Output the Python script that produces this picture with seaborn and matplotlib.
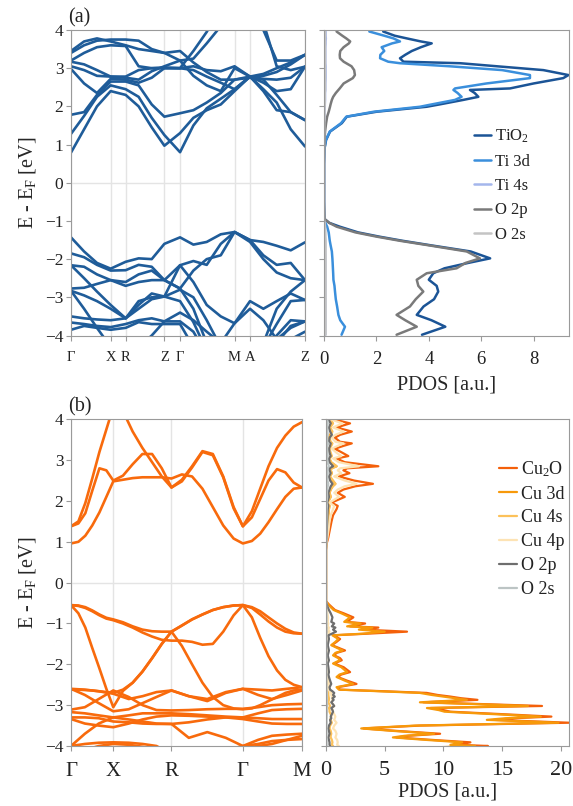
import matplotlib
matplotlib.use('Agg')
import matplotlib.pyplot as plt
import seaborn as sns

# ---------------- data: panel (a) TiO2 ----------------
k_a = [0, 0.056, 0.111, 0.1695, 0.2336, 0.289, 0.345, 0.399, 0.466,
       0.523, 0.580, 0.640, 0.699, 0.765, 0.822, 0.879, 0.939, 1.0]
kticks_a = [0, 0.1695, 0.2336, 0.399, 0.466, 0.699, 0.765, 1.0]
klabels_a = ['Γ', 'X', 'R', 'Z', 'Γ', 'M', 'A', 'Z']

bands_a = [
    [0.79, 1.40, 2.00, 2.40, 2.30, 2.00, 1.45, 0.97, 1.30, 1.70, 1.90, 2.05, 2.40, 2.78, 2.45, 2.10, 1.40, 0.95],
    [1.28, 1.75, 2.25, 2.55, 2.45, 2.25, 1.70, 1.25, 0.80, 1.50, 1.95, 2.20, 2.45, 2.78, 2.40, 1.90, 1.85, 1.64],
    [1.78, 1.85, 2.30, 2.65, 2.65, 2.55, 2.05, 1.73, 1.82, 1.90, 2.10, 2.35, 2.70, 2.75, 2.70, 2.30, 1.85, 1.64],
    [2.98, 2.60, 2.35, 2.72, 2.70, 2.62, 2.75, 3.00, 3.00, 2.95, 2.78, 2.62, 2.45, 2.78, 2.72, 2.70, 2.75, 3.04],
    [3.05, 2.95, 2.80, 2.78, 2.75, 2.70, 2.92, 3.05, 3.20, 2.80, 2.55, 2.40, 3.00, 2.78, 2.62, 2.40, 2.45, 3.04],
    [3.17, 3.10, 2.95, 2.78, 2.78, 2.95, 3.00, 3.02, 3.00, 3.05, 2.95, 2.92, 3.05, 2.78, 2.80, 2.90, 3.10, 3.35],
    [3.40, 3.60, 3.72, 3.75, 3.75, 3.72, 3.50, 3.40, 3.45, 3.15, 2.90, 2.70, 2.70, 2.78, 2.85, 3.00, 3.15, 3.35],
    [3.45, 3.70, 3.78, 3.70, 3.60, 3.50, 3.45, 3.40, 3.20, 3.25, 3.65, 4.10, 5.00, 5.00, 4.20, 3.05, 2.95, 3.04],
    [3.20, 3.40, 3.55, 3.60, 3.58, 3.05, 3.00, 3.00, 3.00, 3.45, 3.95, 4.60, 5.20, 5.20, 4.00, 3.20, 3.20, 3.35],
    [-1.43, -1.80, -2.10, -2.25, -2.07, -1.98, -2.00, -1.60, -1.43, -1.62, -1.55, -1.35, -1.29, -1.50, -1.55, -1.65, -1.77, -1.56],
    [-1.85, -1.95, -2.15, -2.30, -2.29, -2.15, -2.20, -2.55, -2.16, -2.05, -2.15, -1.60, -1.29, -1.50, -1.90, -2.15, -2.10, -2.55],
    [-2.16, -2.20, -2.40, -2.55, -2.60, -2.40, -2.30, -2.55, -2.77, -2.30, -2.00, -1.90, -1.29, -1.55, -2.00, -2.35, -2.50, -2.55],
    [-2.16, -2.50, -2.85, -3.20, -3.55, -3.20, -2.90, -2.98, -2.16, -2.60, -3.20, -3.50, -3.68, -3.10, -3.30, -3.10, -2.90, -3.07],
    [-2.77, -2.75, -2.65, -2.55, -2.70, -2.60, -2.55, -2.55, -2.77, -3.30, -4.20, -4.60, -4.60, -4.50, -4.20, -3.30, -2.85, -2.55],
    [-2.83, -2.95, -3.10, -3.30, -3.55, -3.10, -3.00, -2.98, -2.80, -3.00, -3.60, -4.30, -4.60, -4.60, -4.30, -3.70, -3.10, -3.07],
    [-3.50, -3.55, -3.58, -3.60, -3.55, -3.30, -3.05, -2.98, -3.10, -3.65, -4.40, -4.80, -4.80, -4.80, -4.50, -4.00, -3.60, -3.63],
    [-3.66, -3.70, -3.75, -3.78, -3.70, -3.60, -3.55, -3.63, -3.63, -3.90, -4.50, -4.80, -4.90, -4.90, -4.60, -4.20, -3.75, -3.63],
    [-3.85, -3.75, -3.80, -3.85, -3.80, -3.65, -3.70, -3.70, -3.70, -4.30, -4.80, -5.00, -5.00, -5.00, -4.80, -4.40, -4.10, -3.90],
    [-2.83, -3.30, -3.80, -4.30, -4.40, -4.30, -4.00, -3.63, -3.40, -3.60, -3.90, -4.20, -3.68, -3.30, -3.60, -4.10, -3.80, -3.63],
]

e_a = [3.96, 3.85, 3.78, 3.70, 3.65, 3.55, 3.45, 3.35, 3.26, 3.17, 3.13, 3.05, 2.95,
       2.82, 2.74, 2.60, 2.47, 2.43, 2.35, 2.25, 2.17, 2.05, 1.99, 1.86, 1.73, 1.56,
       1.34, 1.12, 0.90, 0.50, 0.00, -0.50, -0.95, -1.05, -1.15, -1.30, -1.41, -1.52,
       -1.63, -1.80, -1.98, -2.10, -2.24, -2.37, -2.54, -2.70, -2.85, -3.05, -3.24,
       -3.46, -3.60, -3.77, -3.98]
tio2 = [2.26, 2.70, 3.16, 3.70, 4.11, 3.70, 3.35, 3.10, 2.90, 3.03, 5.20, 6.60, 8.37,
        9.33, 9.13, 8.00, 7.10, 5.57, 5.75, 5.89, 5.32, 4.40, 3.92, 2.01, 0.87, 0.68,
        0.23, 0.08, 0.02, 0.00, 0.00, 0.00, 0.02, 0.20, 0.60, 1.30, 2.10, 3.00,
        4.00, 5.60, 6.34, 5.50, 4.60, 4.17, 4.00, 4.30, 4.36, 4.20, 3.80,
        3.54, 4.10, 4.63, 3.74]
ti3d = [1.73, 2.30, 2.65, 2.90, 2.60, 2.20, 2.30, 2.15, 2.14, 2.45, 2.90, 4.80, 6.80,
        7.86, 7.86, 6.20, 5.00, 4.94, 5.10, 5.25, 5.00, 4.10, 3.66, 1.90, 0.85, 0.65,
        0.22, 0.07, 0.02, 0.00, 0.00, 0.00, 0.00, 0.05, 0.12, 0.18, 0.20, 0.22,
        0.25, 0.30, 0.32, 0.33, 0.34, 0.35, 0.36, 0.40, 0.42, 0.45, 0.50,
        0.55, 0.62, 0.80, 0.67]
ti4s = [0.06, 0.06, 0.07, 0.06, 0.06, 0.05, 0.05, 0.05, 0.05, 0.05, 0.05, 0.06, 0.06,
        0.06, 0.06, 0.05, 0.05, 0.05, 0.04, 0.04, 0.04, 0.03, 0.03, 0.02, 0.02, 0.01,
        0.01, 0.00, 0.00, 0.00, 0.00, 0.00, 0.00, 0.01, 0.02, 0.03, 0.03, 0.04,
        0.04, 0.04, 0.05, 0.05, 0.05, 0.05, 0.05, 0.05, 0.05, 0.05, 0.05,
        0.05, 0.05, 0.05, 0.05]
o2p_a = [0.48, 0.70, 0.85, 1.00, 0.95, 0.75, 0.62, 0.60, 0.61, 0.75, 0.85, 1.05, 1.15,
         1.18, 1.10, 0.75, 0.60, 0.55, 0.45, 0.35, 0.30, 0.25, 0.23, 0.18, 0.12, 0.08,
         0.04, 0.02, 0.01, 0.00, 0.00, 0.00, 0.02, 0.20, 0.48, 1.20, 2.00, 2.90,
         3.92, 5.45, 5.95, 5.40, 5.06, 3.92, 3.54, 3.60, 3.79, 3.50, 3.28,
         2.77, 3.10, 3.54, 2.77]
o2s_a = [0.04, 0.04, 0.04, 0.04, 0.04, 0.04, 0.04, 0.04, 0.04, 0.04, 0.04, 0.04, 0.04,
         0.04, 0.04, 0.04, 0.04, 0.04, 0.03, 0.03, 0.03, 0.03, 0.02, 0.02, 0.02, 0.01,
         0.01, 0.00, 0.00, 0.00, 0.00, 0.00, 0.00, 0.02, 0.04, 0.05, 0.05, 0.06,
         0.06, 0.06, 0.06, 0.06, 0.06, 0.06, 0.06, 0.06, 0.06, 0.06, 0.06,
         0.06, 0.06, 0.06, 0.06]

# ---------------- data: panel (b) Cu2O ----------------
kticks_b = [0, 0.183, 0.435, 0.744, 1.0]
klabels_b = ['Γ', 'X', 'R', 'Γ', 'M']

# finer k grid for the smooth outer bands
k_b_fine = [0, 0.032, 0.062, 0.092, 0.123, 0.153, 0.183, 0.225, 0.267, 0.309, 0.351,
            0.393, 0.435, 0.480, 0.524, 0.569, 0.614, 0.659, 0.704, 0.744, 0.783,
            0.819, 0.855, 0.892, 0.928, 0.964, 1.0]
bands_b_fine = [
    [0.96, 1.00, 1.15, 1.40, 1.72, 2.10, 2.48, 2.52, 2.56, 2.58, 2.58, 2.58, 2.55, 2.65,
     2.60, 2.30, 1.85, 1.40, 1.08, 0.96, 1.02, 1.20, 1.48, 1.80, 2.10, 2.30, 2.33],
    [1.38, 1.45, 1.70, 2.25, 2.80, 2.75, 2.50, 2.62, 2.90, 3.15, 3.15, 2.80, 2.33, 2.52,
     2.85, 3.22, 3.15, 2.60, 1.85, 1.38, 1.60, 2.05, 2.50, 2.78, 2.70, 2.45, 2.33],
    [1.38, 1.50, 1.95, 2.55, 3.20, 3.75, 4.30, 4.20, 3.70, 3.30, 2.95, 2.60, 2.33, 2.48,
     2.82, 3.20, 3.12, 2.58, 1.82, 1.38, 1.75, 2.30, 2.85, 3.30, 3.60, 3.82, 3.93],
    [-0.55, -0.56, -0.60, -0.68, -0.78, -0.86, -0.90, -0.97, -1.07, -1.15, -1.19, -1.20, -1.20,
     -1.05, -0.90, -0.78, -0.67, -0.60, -0.56, -0.55, -0.60, -0.70, -0.85, -1.00, -1.13, -1.22, -1.25],
    [-0.55, -0.57, -0.62, -0.70, -0.80, -0.88, -0.92, -1.00, -1.10, -1.22, -1.32, -1.40, -1.42,
     -1.42, -1.45, -1.52, -1.50, -1.20, -0.80, -0.55, -0.62, -0.78, -0.95, -1.10, -1.20, -1.24, -1.25],
    [-0.55, -0.75, -1.10, -1.60, -2.10, -2.60, -3.05, -2.65, -2.45, -2.18, -1.85, -1.50, -1.20,
     -1.05, -0.90, -0.78, -0.67, -0.60, -0.56, -0.55, -0.85, -1.35, -1.80, -2.15, -2.38, -2.50, -2.56],
    [-2.62, -2.62, -2.63, -2.64, -2.66, -2.68, -2.70, -2.62, -2.45, -2.18, -1.85, -1.50, -1.20,
     -1.55, -2.00, -2.45, -2.80, -3.00, -3.08, -3.10, -3.08, -3.00, -2.90, -2.80, -2.70, -2.64, -2.62],
]

# coarse k grid for the dense Cu 3d bundle
k_b = [0, 0.06, 0.12, 0.183, 0.25, 0.31, 0.37, 0.435, 0.51, 0.59, 0.67, 0.744,
       0.81, 0.87, 0.935, 1.0]
bands_b = [
    [-2.60, -2.62, -2.66, -2.72, -2.85, -2.78, -2.68, -2.64, -2.78, -2.90, -2.70, -2.60, -2.62, -2.64, -2.60, -2.56],
    [-2.60, -2.75, -2.95, -3.15, -3.10, -2.95, -2.80, -2.64, -2.78, -2.85, -2.68, -2.60, -2.75, -2.85, -2.75, -2.64],
    [-3.11, -3.05, -2.85, -2.64, -2.80, -3.00, -3.12, -3.13, -3.12, -3.10, -3.09, -3.09, -3.05, -3.00, -2.98, -2.97],
    [-3.17, -3.20, -3.25, -3.30, -3.25, -3.20, -3.20, -3.20, -3.22, -3.25, -3.28, -3.30, -3.20, -3.12, -3.10, -3.09],
    [-3.30, -3.30, -3.32, -3.40, -3.42, -3.45, -3.46, -3.46, -3.42, -3.35, -3.30, -3.30, -3.32, -3.34, -3.34, -3.34],
    [-3.34, -3.45, -3.50, -3.54, -3.45, -3.35, -3.28, -3.25, -3.26, -3.28, -3.30, -3.34, -3.40, -3.45, -3.46, -3.46],
    [-4.00, -3.70, -3.45, -3.30, -3.35, -3.40, -3.45, -3.46, -3.80, -3.66, -3.80, -4.00, -3.85, -3.75, -3.72, -3.70],
    [-4.00, -3.95, -3.92, -3.91, -3.92, -3.95, -4.00, -4.20, -4.30, -4.20, -4.10, -4.00, -3.95, -3.88, -3.85, -3.83],
    [-4.30, -4.10, -4.00, -3.95, -3.97, -4.02, -4.10, -4.30, -4.40, -4.30, -4.15, -4.05, -4.00, -3.95, -3.85, -3.75],
]

e_b = [4.00, 3.95, 3.90, 3.80, 3.70, 3.62, 3.55, 3.45, 3.41, 3.35, 3.28, 3.18, 3.10,
       3.04, 2.95, 2.85, 2.80, 2.75, 2.68, 2.60, 2.50, 2.42, 2.36, 2.28, 2.20, 2.10,
       1.96, 1.88, 1.80, 1.65, 1.50, 1.30, 1.10, 0.95, 0.80, 0.00, -0.45,
       -0.52, -0.60, -0.67, -0.75, -0.85, -0.96, -1.00, -1.07, -1.10, -1.15, -1.20,
       -1.25, -1.29, -1.38, -1.45, -1.53, -1.60, -1.66, -1.72, -1.78, -1.85, -1.90,
       -1.98, -2.07, -2.19, -2.25, -2.31, -2.40, -2.48, -2.56, -2.62, -2.66, -2.70,
       -2.75, -2.79, -2.83, -2.87, -2.93, -2.98, -3.02, -3.07, -3.12, -3.16, -3.22,
       -3.28, -3.32, -3.36, -3.43, -3.50, -3.57, -3.63, -3.70, -3.75, -3.79, -3.85,
       -3.91, -3.97, -4.00, -4.03]
cu2o = [0.60, 1.34, 2.05, 0.90, 2.20, 1.20, 0.76, 1.19, 2.20, 1.50, 0.76, 1.40, 1.90,
        0.90, 1.60, 4.46, 1.80, 1.48, 2.00, 1.10, 2.40, 4.00, 2.50, 1.48, 1.00, 1.60,
        0.47, 1.00, 0.90, 0.60, 0.47, 0.33, 0.19, 0.05, 0.00, 0.00, 0.00,
        0.20, 0.50, 0.77, 1.50, 2.33, 1.77, 3.33, 2.05, 4.46, 3.18, 6.90,
        3.50, 0.63, 1.20, 0.90, 0.50, 1.10, 1.62, 0.90, 0.70, 1.20, 1.34,
        0.70, 1.50, 2.05, 1.30, 1.00, 1.80, 2.60, 1.00, 1.20, 5.00, 8.58,
        9.50, 10.6, 11.5, 12.9, 8.30, 14.0, 18.4, 8.90, 10.0, 10.6, 15.0,
        19.2, 16.0, 14.3, 20.7, 8.00, 3.18, 6.00, 9.72, 7.00, 6.00, 9.00,
        12.3, 11.2, 13.8, 10.0]
cu3d = [0.30, 0.45, 0.55, 0.30, 0.50, 0.35, 0.25, 0.35, 0.50, 0.40, 0.25, 0.35, 0.45,
        0.30, 0.40, 0.90, 0.45, 0.40, 0.50, 0.30, 0.55, 0.80, 0.55, 0.40, 0.30, 0.40,
        0.15, 0.30, 0.25, 0.20, 0.15, 0.10, 0.06, 0.02, 0.00, 0.00, 0.00,
        0.15, 0.40, 0.65, 1.30, 2.05, 1.55, 2.95, 1.80, 3.95, 2.80, 5.00,
        3.10, 0.55, 1.05, 0.80, 0.45, 0.95, 1.42, 0.80, 0.60, 1.05, 1.18,
        0.60, 1.30, 1.80, 1.15, 0.90, 1.60, 2.30, 0.90, 1.10, 4.60, 8.00,
        9.00, 10.0, 11.0, 12.0, 8.00, 13.3, 17.2, 8.60, 9.60, 10.1, 14.3,
        18.3, 15.3, 13.7, 19.8, 7.60, 3.00, 5.70, 9.20, 6.70, 5.70, 8.50,
        11.6, 10.6, 12.7, 9.60]
cu4s = [0.30, 0.50, 0.60, 0.35, 0.55, 0.40, 0.30, 0.40, 0.55, 0.45, 0.30, 0.40, 0.50,
        0.30, 0.45, 0.90, 0.50, 0.40, 0.50, 0.35, 0.60, 0.80, 0.60, 0.40, 0.30, 0.40,
        0.15, 0.30, 0.25, 0.20, 0.15, 0.10, 0.06, 0.02, 0.00, 0.00, 0.00,
        0.02, 0.04, 0.05, 0.07, 0.10, 0.08, 0.12, 0.08, 0.14, 0.10, 0.18,
        0.10, 0.05, 0.06, 0.05, 0.04, 0.06, 0.07, 0.05, 0.05, 0.06, 0.07,
        0.05, 0.07, 0.08, 0.06, 0.05, 0.08, 0.10, 0.06, 0.08, 0.15, 0.20,
        0.20, 0.22, 0.25, 0.25, 0.20, 0.28, 0.35, 0.25, 0.30, 0.30, 0.40,
        0.45, 0.40, 0.40, 0.50, 0.35, 0.30, 0.40, 0.45, 0.40, 0.40, 0.50,
        0.55, 0.50, 0.60, 0.55]
cu4p = [0.40, 0.90, 1.40, 0.60, 1.50, 0.80, 0.50, 0.80, 1.50, 1.00, 0.50, 0.90, 1.30,
        0.60, 1.10, 2.80, 1.20, 1.00, 1.30, 0.70, 1.60, 2.60, 1.60, 1.00, 0.70, 1.10,
        0.30, 0.70, 0.60, 0.40, 0.30, 0.22, 0.12, 0.03, 0.00, 0.00, 0.00,
        0.03, 0.06, 0.08, 0.12, 0.18, 0.15, 0.20, 0.15, 0.25, 0.20, 0.30,
        0.20, 0.10, 0.12, 0.10, 0.08, 0.12, 0.15, 0.10, 0.10, 0.12, 0.14,
        0.10, 0.15, 0.20, 0.15, 0.12, 0.20, 0.25, 0.15, 0.20, 0.35, 0.45,
        0.45, 0.50, 0.50, 0.55, 0.45, 0.60, 0.70, 0.50, 0.55, 0.60, 0.70,
        0.80, 0.75, 0.70, 0.90, 0.70, 0.60, 0.80, 0.90, 0.85, 0.80, 0.95,
        1.00, 0.95, 1.10, 1.00]
o2p_b = [0.20, 0.30, 0.40, 0.25, 0.35, 0.50, 0.30, 0.25, 0.40, 0.35, 0.25, 0.30, 0.40,
         0.25, 0.30, 0.60, 0.30, 0.30, 0.40, 0.25, 0.35, 0.55, 0.40, 0.30, 0.20, 0.25,
         0.10, 0.20, 0.15, 0.12, 0.10, 0.07, 0.04, 0.01, 0.00, 0.00, 0.00,
         0.05, 0.15, 0.25, 0.40, 0.55, 0.45, 0.70, 0.50, 0.80, 0.60, 0.85,
         0.50, 0.20, 0.25, 0.20, 0.15, 0.20, 0.25, 0.20, 0.15, 0.20, 0.25,
         0.15, 0.20, 0.25, 0.20, 0.25, 0.35, 0.45, 0.30, 0.35, 0.55, 0.70,
         0.60, 0.75, 0.55, 0.65, 0.45, 0.60, 0.70, 0.45, 0.55, 0.60, 0.50,
         0.40, 0.45, 0.35, 0.40, 0.25, 0.20, 0.25, 0.30, 0.25, 0.20, 0.25,
         0.30, 0.30, 0.35, 0.30]
o2s_b = [0.10, 0.12, 0.15, 0.10, 0.12, 0.15, 0.10, 0.10, 0.20, 0.12, 0.10, 0.12, 0.15,
         0.10, 0.12, 0.25, 0.12, 0.12, 0.15, 0.10, 0.12, 0.20, 0.15, 0.10, 0.08, 0.10,
         0.05, 0.08, 0.06, 0.05, 0.04, 0.03, 0.02, 0.00, 0.00, 0.00, 0.00,
         0.01, 0.02, 0.03, 0.04, 0.05, 0.04, 0.05, 0.04, 0.06, 0.05, 0.06,
         0.04, 0.02, 0.03, 0.02, 0.02, 0.03, 0.03, 0.02, 0.02, 0.03, 0.03,
         0.02, 0.03, 0.04, 0.03, 0.03, 0.04, 0.05, 0.04, 0.04, 0.06, 0.07,
         0.07, 0.08, 0.07, 0.08, 0.06, 0.08, 0.09, 0.06, 0.07, 0.08, 0.07,
         0.06, 0.06, 0.05, 0.06, 0.04, 0.03, 0.04, 0.05, 0.04, 0.04, 0.05,
         0.05, 0.05, 0.06, 0.05]

# ---------------- style ----------------
sns.set_style('ticks')
plt.rcParams['font.family'] = ['Liberation Serif', 'DejaVu Serif']
plt.rcParams['mathtext.fontset'] = 'custom'
plt.rcParams['mathtext.rm'] = 'Liberation Serif'
plt.rcParams['mathtext.it'] = 'Liberation Serif:italic'
plt.rcParams['axes.edgecolor'] = '#9a9a9a'
plt.rcParams['xtick.color'] = '#9a9a9a'
plt.rcParams['ytick.color'] = '#9a9a9a'
plt.rcParams['xtick.labelcolor'] = '#222222'
plt.rcParams['ytick.labelcolor'] = '#222222'
plt.rcParams['text.color'] = '#222222'

W, H = 573, 806
fig = plt.figure(figsize=(W / 100, H / 100), dpi=100)


def px_axes(left, top, right, bottom):
    return fig.add_axes([left / W, 1 - bottom / H, (right - left) / W, (bottom - top) / H])


def draw_bands(ax, k, bands, color):
    for b in bands:
        sns.lineplot(x=k, y=b, ax=ax, color=color, lw=1.9, sort=False,
                     estimator=None, solid_joinstyle='round', solid_capstyle='round')


def band_axes(ax, kticks, klabels, kfs, kpad):
    for kt in kticks:
        ax.axvline(kt, color='#e4e4e4', lw=1.0, zorder=0)
    ax.axhline(0, color='#e4e4e4', lw=1.0, zorder=0)
    ax.set_xlim(0, 1)
    ax.set_ylim(-4, 4)
    ax.set_xticks(kticks)
    ax.set_xticklabels(klabels, fontsize=kfs)
    ax.set_yticks(range(-4, 5))
    ax.tick_params(axis='y', labelsize=12.5, length=3.5, width=0.8, pad=2)
    ax.tick_params(axis='x', length=3.5, width=0.8, pad=kpad)
    ax.set_ylabel('E - E$_\\mathrm{F}$ [eV]', fontsize=14.5, labelpad=5)


def pdos_panel(ax, e, curves, xmax, xticks, xfs, lw, xpad, lpad):
    for vals, col, lab in curves:
        sns.lineplot(x=vals, y=e, ax=ax, color=col, lw=lw, sort=False, orient='y',
                     estimator=None, label=lab, solid_joinstyle='round')
    ax.set_xlim(0, xmax)
    ax.set_ylim(-4, 4)
    ax.set_xticks(xticks)
    ax.set_yticks(range(-4, 5))
    ax.set_yticklabels([])
    ax.tick_params(axis='x', labelsize=xfs, length=3.5, width=0.8, pad=xpad)
    ax.tick_params(axis='y', length=3.5, width=0.8)
    ax.set_xlabel('PDOS [a.u.]', fontsize=14.5, labelpad=lpad)
    ax.set_ylabel('')


# ---- (a) ----
ax1 = px_axes(71, 30, 305, 335.5)
draw_bands(ax1, k_a, bands_a, '#1f5c99')
band_axes(ax1, kticks_a, klabels_a, 10.5, 8)
ax2 = px_axes(324, 30, 569, 335.5)
pdos_panel(ax2, e_a, [(tio2, '#1b5496', 'TiO$_2$'), (ti3d, '#3a8fdc', 'Ti 3d'),
                      (ti4s, '#a4b6ec', 'Ti 4s'), (o2p_a, '#7a7a7a', 'O 2p'),
                      (o2s_a, '#c4c4c4', 'O 2s')],
           9.35, [0, 2, 4, 6, 8], 13.5, 1.8, 8, 5)
ax2.legend(loc='upper left', bbox_to_anchor=(474 / W, 1 - 128 / H),
           bbox_transform=fig.transFigure, frameon=False, fontsize=12,
           handlelength=1.0, handletextpad=0.25, labelspacing=0.5, borderpad=0,
           borderaxespad=0)

# ---- (b) ----
ax3 = px_axes(71, 419.3, 302, 746)
draw_bands(ax3, k_b_fine, bands_b_fine, '#f86a0c')
draw_bands(ax3, k_b, bands_b, '#f86a0c')
band_axes(ax3, kticks_b, klabels_b, 15, 8)
ax4 = px_axes(326, 419.3, 569, 746)
pdos_panel(ax4, e_b, [(cu2o, '#f4600a', 'Cu$_2$O'), (cu3d, '#f7990a', 'Cu 3d'),
                      (cu4s, '#fcc15a', 'Cu 4s'), (cu4p, '#fde3b4', 'Cu 4p'),
                      (o2p_b, '#6e6e6e', 'O 2p'), (o2s_b, '#bcc4c4', 'O 2s')],
           20.7, [0, 5, 10, 15, 20], 16, 1.6, 7, 2)
ax4.legend(loc='upper left', bbox_to_anchor=(499 / W, 1 - 459 / H),
           bbox_transform=fig.transFigure, frameon=False, fontsize=13,
           handlelength=1.0, handletextpad=0.2, labelspacing=0.38, borderpad=0,
           borderaxespad=0)

fig.text(68 / W, 1 - 18 / H, '(a)', fontsize=14.5, va='center', ha='left')
fig.text(68 / W, 1 - 407 / H, '(b)', fontsize=14.5, va='center', ha='left')

fig.savefig('out.png', dpi=100)
